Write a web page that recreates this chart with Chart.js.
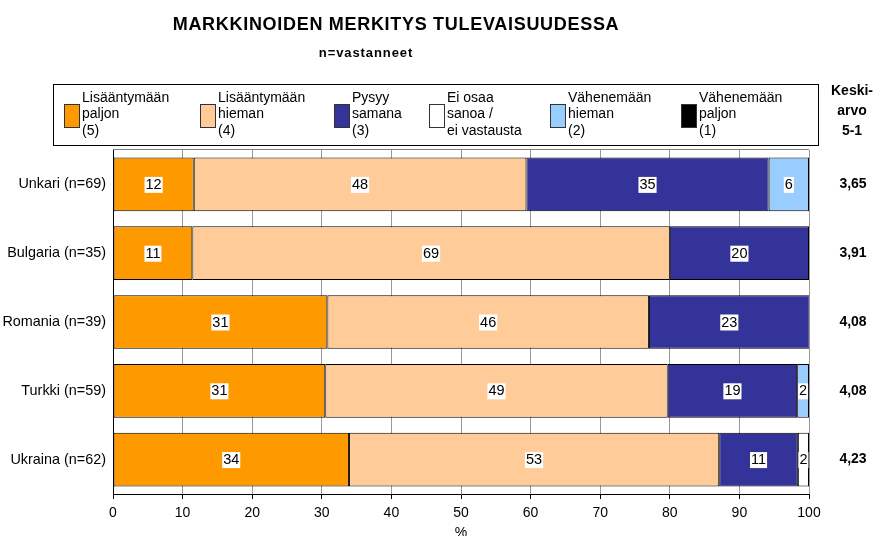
<!DOCTYPE html>
<html>
<head>
<meta charset="utf-8">
<script src="https://cdn.jsdelivr.net/npm/chart.js@4.4.1/dist/chart.umd.min.js"></script>
<style>
  html, body { margin: 0; padding: 0; background: #fff; }
  #wrap { width: 875px; height: 536px; }
</style>
</head>
<body>
<div id="wrap"><canvas id="myChart" width="875" height="536"></canvas></div>
<script>
// maat ja vastaajamäärät
const categories = ['Unkari (n=69)', 'Bulgaria (n=35)', 'Romania (n=39)', 'Turkki (n=59)', 'Ukraina (n=62)'];

// sarjojen nimet (legenda, rivit)
const seriesNames = [
    ['Lisääntymään', 'paljon', '(5)'],
    ['Lisääntymään', 'hieman', '(4)'],
    ['Pysyy', 'samana', '(3)'],
    ['Ei osaa', 'sanoa /', 'ei vastausta'],
    ['Vähenemään', 'hieman', '(2)'],
    ['Vähenemään', 'paljon', '(1)']
];
const seriesColors = ['#FF9900', '#FFCC99', '#333399', '#FFFFFF', '#99CCFF', '#000000'];

// prosentit (luettu palkkien pituuksista)
const lisaantyyPaljon = [11.6, 11.4, 30.8, 30.5, 33.9];
const lisaantyyHieman = [47.8, 68.6, 46.2, 49.2, 53.2];
const pysyySamana = [34.8, 20.0, 23.1, 18.6, 11.3];
const eiOsaa = [0, 0, 0, 0, 1.6];
const vaheneeHieman = [5.8, 0, 0, 1.7, 0];
const vaheneePaljon = [0, 0, 0, 0, 0];

// keskiarvot 5-1
const keskiarvo = ['3,65', '3,91', '4,08', '4,08', '4,23'];

const FONT = "'Liberation Sans', Arial, sans-serif";
const seriesData = [lisaantyyPaljon, lisaantyyHieman, pysyySamana, eiOsaa, vaheneeHieman, vaheneePaljon];

// otsikot, legenda ja keskiarvot piirretään itse
const extras = {
    id: 'extras',
    afterDraw(chart) {
        const ctx = chart.ctx;
        const area = chart.chartArea;
        ctx.save();
        ctx.fillStyle = '#000';
        ctx.textAlign = 'center';
        ctx.textBaseline = 'middle';

        ctx.font = 'bold 18px ' + FONT;
        ctx.letterSpacing = '0.7px';
        ctx.fillText('MARKKINOIDEN MERKITYS TULEVAISUUDESSA', 396, 25);
        ctx.font = 'bold 13px ' + FONT;
        ctx.letterSpacing = '0.9px';
        ctx.fillText('n=vastanneet', 366, 53);
        ctx.letterSpacing = '0px';

        // legendan laatikko
        ctx.fillStyle = '#fff';
        ctx.fillRect(53, 84, 766, 62);
        ctx.strokeStyle = '#000';
        ctx.lineWidth = 1;
        ctx.strokeRect(53.5, 84.5, 765, 61);

        const itemX = [64, 200, 334, 429, 550, 681];
        ctx.textAlign = 'left';
        ctx.font = '14px ' + FONT;
        chart.data.datasets.forEach((ds, i) => {
            const x = itemX[i];
            ctx.fillStyle = ds.backgroundColor;
            ctx.fillRect(x, 104, 15, 23);
            ctx.strokeStyle = '#333';
            ctx.strokeRect(x + 0.5, 104.5, 15, 23);
            ctx.fillStyle = '#000';
            ds.label.forEach((line, k) => {
                ctx.fillText(line, x + 18, 98 + k * 16.5);
            });
        });

        // keskiarvot
        ctx.textAlign = 'center';
        ctx.font = 'bold 14px ' + FONT;
        ['Keski-', 'arvo', '5-1'].forEach((t, k) => ctx.fillText(t, 852, 91 + k * 20));
        const yScale = chart.scales.y;
        keskiarvo.forEach((v, i) => {
            ctx.fillText(v, 853, yScale.getPixelForValue(i));
        });

        // kuvaalueen yläreuna
        ctx.strokeStyle = '#808080';
        ctx.beginPath();
        ctx.moveTo(area.left, area.top - 0.5);
        ctx.lineTo(area.right, area.top - 0.5);
        ctx.stroke();
        ctx.restore();
    }
};

// arvot palkkien keskelle valkoisella pohjalla
const barLabels = {
    id: 'barLabels',
    afterDatasetsDraw(chart) {
        const ctx = chart.ctx;
        ctx.save();
        ctx.font = '14.5px ' + FONT;
        ctx.textAlign = 'center';
        ctx.textBaseline = 'middle';
        chart.data.datasets.forEach((ds, i) => {
            const meta = chart.getDatasetMeta(i);
            meta.data.forEach((bar, j) => {
                const v = ds.data[j];
                if (!v) return;
                const txt = String(Math.round(v));
                const w = ctx.measureText(txt).width;
                const cx = (bar.x + bar.base) / 2;
                ctx.fillStyle = '#fff';
                ctx.fillRect(cx - w / 2 - 1, bar.y - 7.5, w + 2, 16);
                ctx.fillStyle = '#000';
                ctx.fillText(txt, cx, bar.y + 0.5);
            });
        });
        ctx.restore();
    }
};

const ctx = document.getElementById('myChart');
new Chart(ctx, {
    type: 'bar',
    data: {
        labels: categories,
        datasets: seriesData.map((d, i) => ({
            label: seriesNames[i],
            data: d,
            backgroundColor: seriesColors[i],
            borderColor: '#000',
            borderWidth: 1,
            borderSkipped: false,
            barPercentage: 0.78,
            categoryPercentage: 1
        }))
    },
    options: {
        indexAxis: 'y',
        responsive: false,
        animation: false,
        layout: { padding: { top: 150, right: 66, left: 0, bottom: 0 } },
        plugins: {
            legend: { display: false },
            tooltip: { enabled: false }
        },
        scales: {
            x: {
                stacked: true,
                min: 0,
                max: 100,
                ticks: { stepSize: 10, color: '#000', font: { family: FONT, size: 14 }, padding: 6 },
                grid: { color: '#999', tickColor: '#000', tickLength: 5 },
                border: { color: '#000', width: 1 },
                title: { display: true, text: '%', color: '#000', font: { family: FONT, size: 14 }, padding: { top: 0, bottom: -6 } },
                afterFit(scale) { scale.height = 42; }
            },
            y: {
                stacked: true,
                ticks: { color: '#000', font: { family: FONT, size: 14.4 }, padding: 7 },
                grid: { display: false, drawTicks: false },
                border: { color: '#000', width: 1 },
                afterFit(scale) { scale.width = 113; }
            }
        }
    },
    plugins: [barLabels, extras]
});
</script>
</body>
</html>
